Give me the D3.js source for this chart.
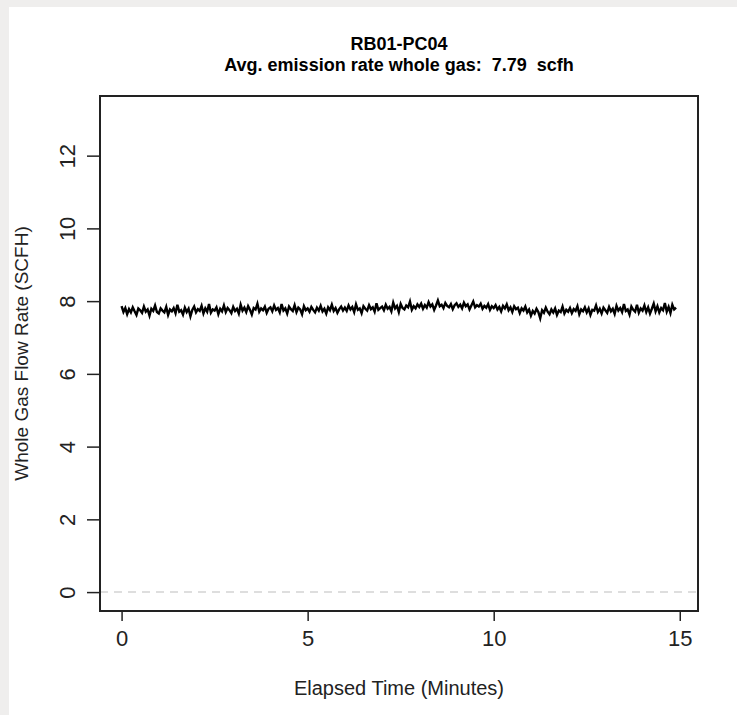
<!DOCTYPE html>
<html>
<head>
<meta charset="utf-8">
<script src="https://cdn.jsdelivr.net/npm/d3@7"></script>
<style>
html, body { margin: 0; padding: 0; background: #efeeed; }
svg { display: block; }
text { font-family: "Liberation Sans", Arial, sans-serif; }
</style>
</head>
<body>
<svg id="chart" width="737" height="715"></svg>
<script>
// DATA
var chart_title = 'RB01-PC04';
var chart_subtitle = 'Avg. emission rate whole gas:  7.79  scfh';
var x_label = 'Elapsed Time (Minutes)';
var y_label = 'Whole Gas Flow Rate (SCFH)';
var x_ticks = [0, 5, 10, 15];
var y_ticks = [0, 2, 4, 6, 8, 10, 12];
// readings are every 3 seconds, starting at 0 minutes
var sample_step = 3 / 60;
var flow_rate = [
    7.86, 7.70, 7.81, 7.64, 7.78, 7.69, 7.83, 7.72, 7.62, 7.80, 7.75, 7.68, 7.85, 7.71, 7.77, 7.60, 7.79, 7.73, 7.88, 7.70,
    7.66, 7.80, 7.74, 7.69, 7.84, 7.62, 7.77, 7.72, 7.81, 7.67, 7.90, 7.71, 7.75, 7.63, 7.82, 7.70, 7.79, 7.58, 7.76, 7.85,
    7.69, 7.78, 7.73, 7.87, 7.66, 7.80, 7.71, 7.92, 7.68, 7.77, 7.74, 7.83, 7.64, 7.79, 7.72, 7.88, 7.70, 7.81, 7.75, 7.67,
    7.84, 7.73, 7.79, 7.66, 7.90, 7.74, 7.82, 7.70, 7.86, 7.76, 7.63, 7.81, 7.77, 7.93, 7.71, 7.80, 7.75, 7.85, 7.68, 7.79,
    7.83, 7.72, 7.88, 7.76, 7.81, 7.69, 7.92, 7.74, 7.80, 7.66, 7.85, 7.78, 7.73, 7.89, 7.70, 7.82, 7.77, 7.64, 7.86, 7.75,
    7.80, 7.71, 7.84, 7.76, 7.69, 7.82, 7.74, 7.87, 7.72, 7.79, 7.66, 7.83, 7.75, 7.90, 7.73, 7.81, 7.68, 7.78, 7.85, 7.74,
    7.82, 7.73, 7.88, 7.77, 7.84, 7.70, 7.91, 7.76, 7.80, 7.67, 7.86, 7.79, 7.74, 7.89, 7.78, 7.83, 7.71, 7.94, 7.76, 7.81,
    7.85, 7.75, 7.90, 7.79, 7.84, 7.72, 7.96, 7.80, 7.87, 7.70, 7.92, 7.81, 7.77, 7.88, 7.83, 7.99, 7.76, 7.86, 7.80, 7.91,
    7.84, 7.93, 7.79, 7.89, 7.82, 7.97, 7.85, 7.91, 7.76, 7.88, 8.02, 7.86, 7.90, 7.81, 7.95, 7.87, 7.83, 7.92, 7.78, 7.89,
    7.94, 7.84, 7.90, 7.80, 7.96, 7.86, 7.91, 7.77, 7.88, 7.99, 7.83, 7.89, 7.85, 7.93, 7.79, 7.87, 7.82, 7.92, 7.76, 7.86,
    7.81, 7.89, 7.77, 7.84, 7.72, 7.87, 7.80, 7.91, 7.75, 7.83, 7.70, 7.86, 7.78, 7.82, 7.67, 7.80, 7.74, 7.85, 7.69, 7.77,
    7.60, 7.73, 7.66, 7.79, 7.70, 7.53, 7.75, 7.68, 7.82, 7.71, 7.64, 7.77, 7.69, 7.80, 7.62, 7.74, 7.70, 7.85, 7.66, 7.76,
    7.71, 7.81, 7.67, 7.78, 7.73, 7.86, 7.64, 7.77, 7.72, 7.83, 7.69, 7.80, 7.62, 7.76, 7.74, 7.88, 7.70, 7.79, 7.66, 7.82,
    7.75, 7.68, 7.84, 7.72, 7.79, 7.65, 7.87, 7.74, 7.81, 7.70, 7.92, 7.73, 7.77, 7.63, 7.85, 7.76, 7.71, 7.90, 7.68, 7.80,
    7.74, 7.88, 7.70, 7.83, 7.66, 7.79, 7.93, 7.72, 7.86, 7.69, 7.81, 7.75, 7.95, 7.71, 7.84, 7.67, 7.90, 7.77, 7.82
];

// CHART
var chrt = {
    box: { left: 100, right: 698, top: 96, bottom: 611 },
    build_chart: function() {
        var b = this.box;
        var svg = d3.select('svg#chart');

        // white panel over the grey page
        svg.append('rect')
            .attr('x', 9).attr('y', 7)
            .attr('width', 737 - 9).attr('height', 715 - 7)
            .attr('fill', '#fff');

        var x = d3.scaleLinear().domain([-0.58, 15.49]).range([b.left, b.right]);
        var y = d3.scaleLinear().domain([-0.52, 13.64]).range([b.bottom, b.top]);

        var data = flow_rate.map(function(v, i) { return { t: i * sample_step, v: v }; });

        // dashed zero line
        svg.append('line')
            .attr('x1', b.left).attr('x2', b.right)
            .attr('y1', y(0)).attr('y2', y(0))
            .attr('stroke', '#d3d3d3')
            .attr('stroke-width', 1.5)
            .attr('stroke-dasharray', '8,6');

        var line = d3.line()
            .x(function(d) { return x(d.t); })
            .y(function(d) { return y(d.v); });

        svg.append('path')
            .datum(data)
            .attr('d', line)
            .attr('fill', 'none')
            .attr('stroke', '#000')
            .attr('stroke-width', 2.4);

        // x axis, R style
        var xa = svg.append('g')
            .attr('transform', 'translate(0,' + b.bottom + ')')
            .call(d3.axisBottom(x).tickValues(x_ticks).tickSize(10).tickPadding(9).tickFormat(d3.format('d')));
        xa.select('.domain').remove();
        xa.selectAll('line').attr('stroke', '#222').attr('stroke-width', 1.5);
        xa.selectAll('text').attr('font-size', 22).attr('fill', '#222')
            .style('font-family', '"Liberation Sans", Arial, sans-serif');

        // y axis with rotated labels
        var ya = svg.append('g')
            .attr('transform', 'translate(' + b.left + ',0)')
            .call(d3.axisLeft(y).tickValues(y_ticks).tickSize(13).tickFormat(d3.format('d')));
        ya.select('.domain').remove();
        ya.selectAll('line').attr('stroke', '#222').attr('stroke-width', 1.5);
        ya.selectAll('text')
            .attr('x', null).attr('dy', null)
            .attr('font-size', 22).attr('fill', '#222')
            .attr('text-anchor', 'middle')
            .attr('transform', 'translate(-25,0) rotate(-90)')
            .style('font-family', '"Liberation Sans", Arial, sans-serif');

        // plot box
        svg.append('rect')
            .attr('x', b.left).attr('y', b.top)
            .attr('width', b.right - b.left).attr('height', b.bottom - b.top)
            .attr('fill', 'none')
            .attr('stroke', '#222')
            .attr('stroke-width', 2);

        // titles
        var cx = (b.left + b.right) / 2;
        svg.append('text')
            .attr('x', cx).attr('y', 50)
            .attr('text-anchor', 'middle')
            .attr('font-size', 18).attr('font-weight', 'bold')
            .text(chart_title);
        svg.append('text')
            .attr('x', cx).attr('y', 71)
            .attr('text-anchor', 'middle')
            .attr('font-size', 18).attr('font-weight', 'bold')
            .style('white-space', 'pre')
            .text(chart_subtitle);

        svg.append('text')
            .attr('x', cx).attr('y', 695)
            .attr('text-anchor', 'middle')
            .attr('font-size', 20).attr('fill', '#222')
            .text(x_label);
        svg.append('text')
            .attr('transform', 'translate(28,' + ((b.top + b.bottom) / 2) + ') rotate(-90)')
            .attr('text-anchor', 'middle')
            .attr('font-size', 19).attr('fill', '#222')
            .text(y_label);
    }
};

chrt.build_chart();
</script>
</body>
</html>
